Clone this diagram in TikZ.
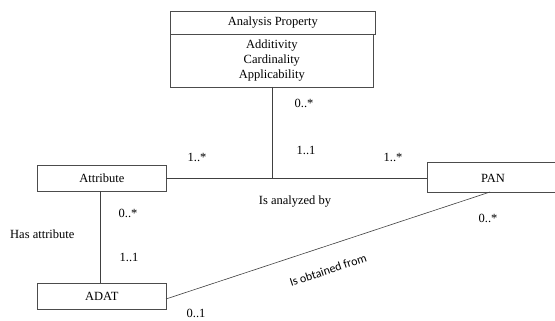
\documentclass[tikz,border=0pt]{standalone}
\usepackage{fontspec}
\setmainfont{Liberation Serif}
\newfontfamily\carl{Carlito}
\begin{document}
\begin{tikzpicture}[x=1pt,y=-1pt,
  box/.style={draw=black!70,line width=0.7pt,inner sep=0pt,font=\fontsize{12.5}{15}\selectfont},
  lbl/.style={inner sep=0pt,font=\fontsize{12.5}{15}\selectfont},
  conn/.style={draw=black!75,line width=0.6pt}]
\useasboundingbox (0,0) rectangle (555,321);
\node[box,minimum width=205,minimum height=23,anchor=north west] (aph) at (170,11) {Analysis Property};
\node[box,minimum width=203,minimum height=53,anchor=north west,align=center] (apb) at (170,34) {Additivity\\Cardinality\\Applicability};
\node[box,minimum width=129,minimum height=26,anchor=north west] (attr) at (37,165) {Attribute};
\node[box,minimum width=129,minimum height=26,anchor=north west] (adat) at (37,283) {ADAT};
\node[draw=black!70,line width=0.7pt,minimum width=140,minimum height=30,anchor=north west] (pan) at (427,162) {};
\node[lbl] (pantext) at (493,178) {PAN};
\coordinate (j) at (272,178);
\coordinate (apbot) at (272,87);
\coordinate (attrR) at (166,178);
\coordinate (panL) at (427,178);
\coordinate (attrB) at (100,191);
\coordinate (adatT) at (100,283);
\coordinate (adatR) at (166,299);
\coordinate (panB) at (490,192);
\draw[conn] (apbot) -- (j);
\draw[conn] (attrR) -- (panL);
\draw[conn] (attrB) -- (adatT);
\draw[conn] (adatR) -- (panB);
\node[lbl] (m1) at (304,103) {0..*};
\node[lbl] (m2) at (197,157) {1..*};
\node[lbl] (m3) at (306,150) {1..1};
\node[lbl] (m4) at (393,157) {1..*};
\node[lbl] (r1) at (295,202) {Is analyzed by};
\node[lbl] (m5) at (128,213) {0..*};
\node[lbl,anchor=west] (r2) at (10,234) {Has attribute};
\node[lbl] (m6) at (129,257) {1..1};
\node[lbl] (m7) at (196,313.5) {0..1};
\node[lbl] (m8) at (488,218) {0..*};
\node[inner sep=0pt,font=\carl\fontsize{12}{14}\selectfont,rotate=18.5] (r3) at (328,270) {Is obtained from};
\end{tikzpicture}
\end{document}
